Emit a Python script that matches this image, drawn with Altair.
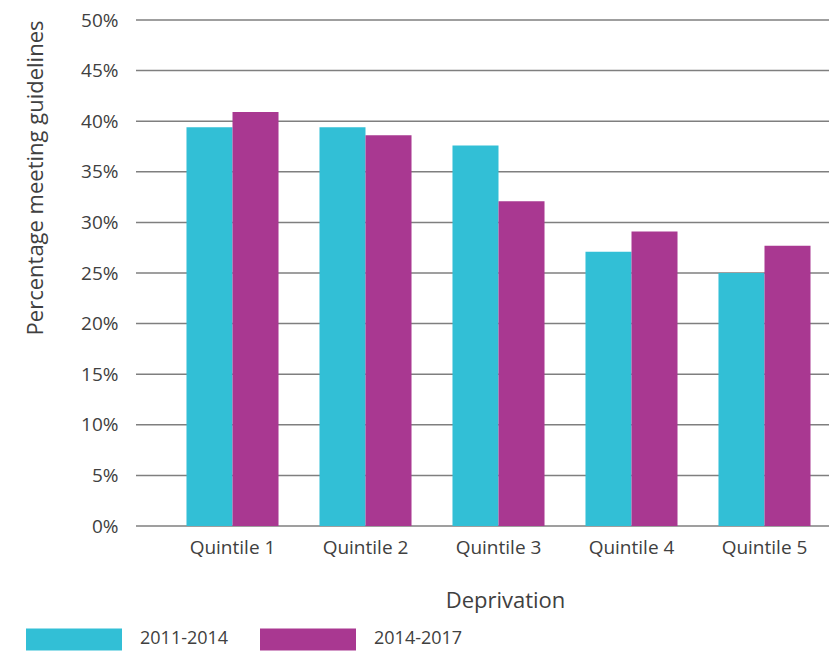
import altair as alt
import pandas as pd

categories = ["Quintile 1", "Quintile 2", "Quintile 3", "Quintile 4", "Quintile 5"]
series = ["2011-2014", "2014-2017"]
values_2011_2014 = [39.4, 39.4, 37.6, 27.1, 25.0]
values_2014_2017 = [40.9, 38.6, 32.1, 29.1, 27.7]
grid_values = [0, 5, 10, 15, 20, 25, 30, 35, 40, 45, 50]

rows = []
for c, a, b in zip(categories, values_2011_2014, values_2014_2017):
    rows.append({"cat": c, "period": series[0], "value": a})
    rows.append({"cat": c, "period": series[1], "value": b})
df = pd.DataFrame(rows)
grid_df = pd.DataFrame({"g": grid_values})

FONT = "Open Sans"
TXT = "#404040"

yscale = alt.Scale(domain=[0, 50], nice=False)
y_axis = alt.Axis(
    title="Percentage meeting guidelines",
    values=grid_values,
    labelExpr="datum.value + '%'",
    grid=False,
    ticks=False,
    domain=False,
    labelPadding=50,
    labelFontSize=19,
    labelFont=FONT,
    labelColor=TXT,
    titleFont=FONT,
    titleFontSize=22,
    titleFontWeight="normal",
    titleColor=TXT,
    titleAngle=-90,
    titleAlign="right",
    titleBaseline="middle",
    titleX=-133,
    titleY=0,
)

grid = alt.Chart(grid_df).mark_rule(color="#7f7f7f", strokeWidth=1.5).encode(
    y=alt.Y("g:Q", scale=yscale, axis=y_axis, title="Percentage meeting guidelines"),
    x=alt.value(-32),
    x2=alt.value(669),
)

bars = alt.Chart(df).mark_bar().encode(
    x=alt.X(
        "cat:N",
        sort=categories,
        scale=alt.Scale(paddingInner=0.308, paddingOuter=0.139),
        axis=alt.Axis(
            title="Deprivation",
            labelAngle=0,
            ticks=False,
            domain=False,
            labelPadding=12,
            labelFontSize=19,
            labelFont=FONT,
            labelColor=TXT,
            titleFont=FONT,
            titleFontSize=22,
            titleFontWeight="normal",
            titleColor=TXT,
            titleBaseline="middle",
            titleAlign="center",
            titleX=337,
            titleY=74,
        ),
    ),
    xOffset=alt.XOffset("period:N", sort=series),
    y=alt.Y("value:Q", scale=yscale, axis=y_axis, title="Percentage meeting guidelines"),
    color=alt.Color(
        "period:N",
        sort=series,
        scale=alt.Scale(domain=series, range=["#32BFD6", "#A93891"]),
        legend=alt.Legend(
            title=None,
            orient="none",
            direction="horizontal",
            legendX=-142,
            legendY=571,
            symbolType="M-1,-0.23H1V0.23H-1Z",
            symbolSize=9216,
            symbolStrokeWidth=0,
            symbolOpacity=1,
            labelOffset=18,
            columnPadding=31,
            labelFont=FONT,
            labelFontSize=18,
            labelColor=TXT,
        ),
    ),
)

chart = alt.layer(grid, bars).properties(
    width=661,
    height=506,
    autosize=alt.AutoSizeParams(type="none"),
    padding={"left": 160, "top": 12, "right": 0, "bottom": 125},
).configure_view(stroke=None)

chart.save("out.html", embed_options={"renderer": "svg", "actions": False})
